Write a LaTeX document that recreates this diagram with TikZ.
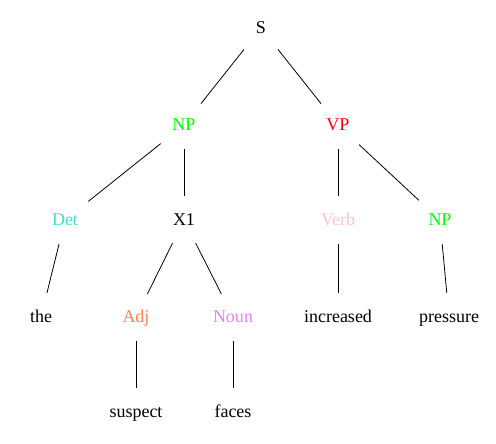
\documentclass[tikz,border=0pt]{standalone}
\usepackage{fontspec}
\setmainfont{Liberation Serif}
\usepackage{tikz}
\usetikzlibrary{shapes.geometric}
\definecolor{npgreen}{HTML}{00FF00}
\definecolor{vpred}{HTML}{FF0000}
\definecolor{detcol}{HTML}{40E0D0}
\definecolor{verbcol}{HTML}{FFC0CB}
\definecolor{adjcol}{HTML}{FF7F50}
\definecolor{nouncol}{HTML}{EE82EE}

\begin{document}
\begin{tikzpicture}[x=0.75pt, y=-0.75pt,
  tok/.style={ellipse, minimum width=54pt, minimum height=36pt, inner sep=0pt,
    text height=10.5pt, text depth=2pt,
    font=\fontsize{13.5}{15}\selectfont},
  branch/.style={draw, line width=0.6pt}]
  \useasboundingbox (0,0) rectangle (496,443);
  % root and phrase nodes
  \node[tok] (s) at (261,28) {S};
  \node[tok, text=npgreen] (np) at (184,125) {NP};
  \node[tok, text=vpred] (vp) at (338,125) {VP};
  % categories
  \node[tok, text=detcol] (det) at (65,220) {Det};
  \node[tok] (xone) at (184,220) {X1};
  \node[tok, text=verbcol] (verb) at (338,220) {Verb};
  \node[tok, text=npgreen] (nptwo) at (440,220) {NP};
  % words and lower categories
  \node[tok] (the) at (41,317) {the};
  \node[tok, text=adjcol] (adj) at (136,317) {Adj};
  \node[tok, text=nouncol] (noun) at (233,317) {Noun};
  \node[tok] (increased) at (338,317) {increased};
  \node[tok] (pressure) at (449,317) {pressure};
  \node[tok] (suspect) at (136,412) {suspect};
  \node[tok] (faces) at (233,412) {faces};
  % branches
  \draw[branch] (s) -- (np);
  \draw[branch] (s) -- (vp);
  \draw[branch] (np) -- (det);
  \draw[branch] (np) -- (xone);
  \draw[branch] (vp) -- (verb);
  \draw[branch] (vp) -- (nptwo);
  \draw[branch] (det) -- (the);
  \draw[branch] (xone) -- (adj);
  \draw[branch] (xone) -- (noun);
  \draw[branch] (verb) -- (increased);
  \draw[branch] (nptwo) -- (pressure);
  \draw[branch] (adj) -- (suspect);
  \draw[branch] (noun) -- (faces);
\end{tikzpicture}
\end{document}
